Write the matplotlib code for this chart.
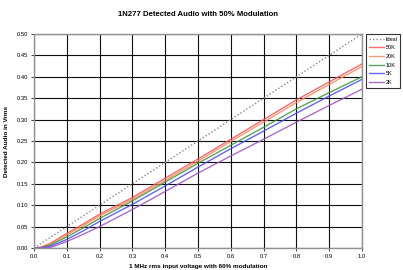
import matplotlib
matplotlib.use("Agg")
import matplotlib.pyplot as plt

plt.rcParams['font.family'] = ['Liberation Sans', 'DejaVu Sans']

title = "1N277 Detected Audio with 50% Modulation"
xlabel = "1 MHz rms input voltage with 60% modulation"
ylabel = "Detected Audio in Vrms"

ideal_x = [0.0, 1.0]
ideal_y = [0.0, 0.5]

x = [0.0, 0.02, 0.05, 0.1, 0.15, 0.2, 0.3, 0.4, 0.5, 0.6, 0.7, 0.8, 0.9, 1.0]
y_50k = [0.0, 0.002, 0.011, 0.034, 0.056, 0.079, 0.118, 0.163, 0.208, 0.254, 0.300, 0.346, 0.388, 0.430]
y_20k = [0.0, 0.001, 0.009, 0.031, 0.052, 0.075, 0.114, 0.158, 0.203, 0.249, 0.294, 0.340, 0.382, 0.424]
y_10k = [0.0, 0.0, 0.007, 0.026, 0.047, 0.069, 0.110, 0.154, 0.198, 0.240, 0.282, 0.325, 0.363, 0.400]
y_5k = [0.0, 0.0, 0.004, 0.020, 0.040, 0.062, 0.102, 0.145, 0.189, 0.232, 0.273, 0.315, 0.355, 0.394]
y_2k = [0.0, 0.0, 0.001, 0.015, 0.032, 0.050, 0.090, 0.132, 0.175, 0.215, 0.254, 0.294, 0.333, 0.371]

labels = ["50K", "20K", "10K", "5K", "2K"]
colors = ["#ff5050", "#f58a60", "#3c963c", "#4a4aff", "#9a55c0"]

fig = plt.figure(figsize=(4.03, 2.70), dpi=100)
ax = fig.add_axes([0.0844, 0.0815, 0.8136, 0.7925])

ax.plot(ideal_x, ideal_y, linestyle=(0, (1, 1.5)), color="#888888", lw=1.0, label="Ideal")
for ys, lab, c in zip([y_50k, y_20k, y_10k, y_5k, y_2k], labels, colors):
    ax.plot(x, ys, color=c, lw=1.0, alpha=0.85, label=lab)

ax.set_xlim(0, 1.0)
ax.set_ylim(0, 0.5)
ax.set_xticks([i / 10 for i in range(11)])
ax.set_yticks([i * 0.05 for i in range(11)])
ax.set_xticklabels([f"{i/10:.1f}" for i in range(11)])
ax.set_yticklabels([f"{i*0.05:.2f}" for i in range(11)])
ax.grid(True, color="#101010", lw=0.8)
ax.set_axisbelow(True)
ax.tick_params(axis='both', labelsize=4.2, length=2.5, width=0.7, color="#404040", pad=1.5)
for s in ax.spines.values():
    s.set_color("#909090")
    s.set_linewidth(1.0)

ax.set_title(title, fontsize=5.6, fontweight='bold', pad=13)
ax.set_xlabel(xlabel, fontsize=4.6, fontweight='bold', labelpad=4)
ax.set_ylabel(ylabel, fontsize=4.6, fontweight='bold', labelpad=6)

leg = ax.legend(loc='upper left', bbox_to_anchor=(1.012, 1.0), fontsize=4.0,
                frameon=True, fancybox=False, edgecolor='black', handlelength=2.8,
                borderpad=0.5, labelspacing=0.65, handletextpad=0.3, borderaxespad=0.0)
leg.get_frame().set_linewidth(0.8)

fig.savefig("out.png", dpi=100)
